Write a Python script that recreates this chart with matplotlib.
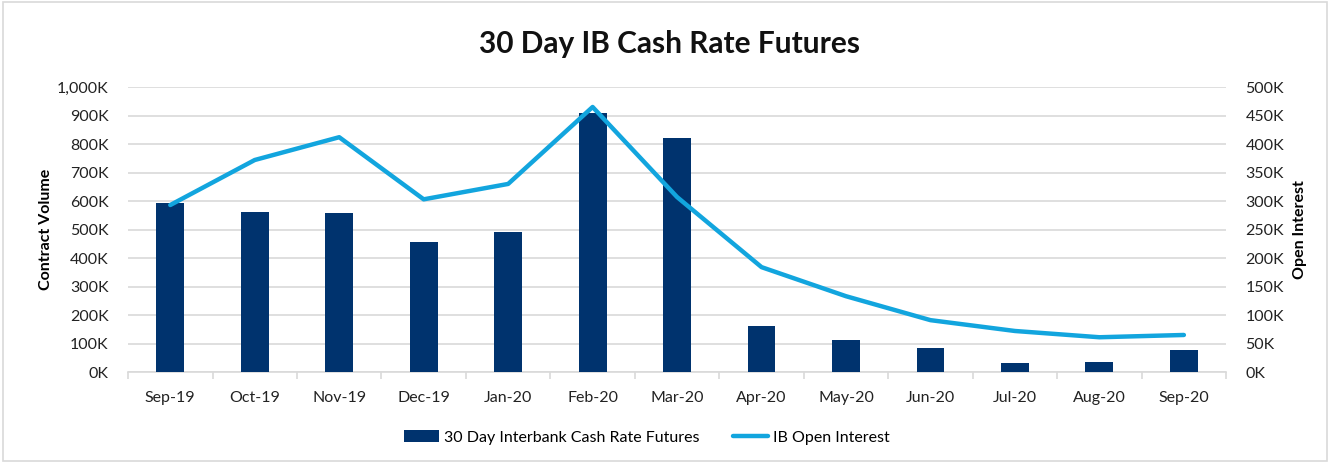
import matplotlib
matplotlib.use("Agg")
import matplotlib.pyplot as plt
from matplotlib.patches import Rectangle
from matplotlib.ticker import FuncFormatter, MultipleLocator
import numpy as np

months = ["Sep-19", "Oct-19", "Nov-19", "Dec-19", "Jan-20", "Feb-20", "Mar-20",
          "Apr-20", "May-20", "Jun-20", "Jul-20", "Aug-20", "Sep-20"]
volume = [593, 561, 558, 456, 491, 909, 821, 161, 112, 84, 32, 35, 77]          # thousands
open_interest = [293, 372, 412, 303, 330, 465, 307, 184, 133, 91, 72, 61, 65]   # thousands

plt.rcParams['font.family'] = ['Lato', 'DejaVu Sans']

fig = plt.figure(figsize=(13.31, 4.63), dpi=100)
fig.patches.append(Rectangle((0.002, 0.004), 0.995, 0.992, transform=fig.transFigure,
                             fill=False, edgecolor="#d9d9d9", linewidth=1.2))
ax = fig.add_axes([0.0962, 0.1965, 0.825, 0.6155])
ax2 = ax.twinx()

x = np.arange(len(months))
bars = ax.bar(x, volume, width=0.33, color="#00336e", zorder=3,
              label="30 Day Interbank Cash Rate Futures")
line, = ax2.plot(x, open_interest, color="#12a5de", linewidth=3.2, zorder=4,
                 solid_capstyle="round", label="IB Open Interest")

ax.set_xlim(-0.5, len(months) - 0.5)
ax.set_ylim(0, 1000)
ax2.set_ylim(0, 500)
ax.yaxis.set_major_locator(MultipleLocator(100))
ax2.yaxis.set_major_locator(MultipleLocator(50))
ax.yaxis.set_major_formatter(FuncFormatter(lambda v, p: f"{int(v):,}K"))
ax2.yaxis.set_major_formatter(FuncFormatter(lambda v, p: f"{int(v)}K"))

ax.grid(axis="y", color="#d9d9d9", linewidth=1.2, zorder=0)
ax.set_axisbelow(True)
for a in (ax, ax2):
    for s in ("top", "left", "right"):
        a.spines[s].set_visible(False)
    a.spines["bottom"].set_color("#d9d9d9")
    a.spines["bottom"].set_linewidth(1.2)
ax2.spines["bottom"].set_visible(False)

ax.set_xticks(x)
ax.set_xticklabels(months, fontsize=11.5, color="#222222")
ax.set_xticks(np.arange(-0.5, len(months), 1), minor=True)
ax.tick_params(axis="x", which="major", length=0, pad=14)
ax.tick_params(axis="x", which="minor", length=5, color="#d9d9d9", width=1.2)
ax.tick_params(axis="y", length=0, labelsize=11.5, labelcolor="#222222", pad=14)
ax2.tick_params(axis="y", length=0, labelsize=11.5, labelcolor="#222222", pad=14)

ax.set_ylabel("Contract Volume", fontsize=11.5, fontweight="bold", labelpad=3)
ax2.set_ylabel("Open Interest", fontsize=11.5, fontweight="bold", labelpad=6)

fig.text(0.503, 0.905, "30 Day IB Cash Rate Futures", ha="center", va="center",
         fontsize=21.5, fontweight="bold", color="#111111")

fig.legend(handles=[bars, line], loc="center", bbox_to_anchor=(0.486, 0.055),
           ncol=2, frameon=False, fontsize=11.5, handlelength=2.2, columnspacing=2.1,
           handletextpad=0.3)

fig.savefig("out.png", dpi=100)
